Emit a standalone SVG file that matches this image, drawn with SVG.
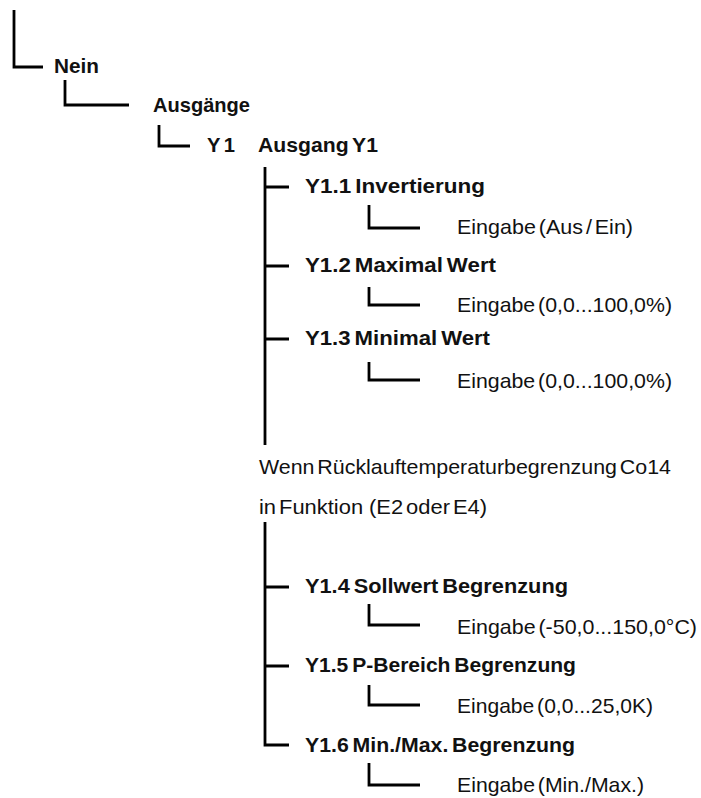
<svg xmlns="http://www.w3.org/2000/svg" width="701" height="798" viewBox="0 0 701 798">
<style>
.c{fill:none;stroke:#000;stroke-width:2.8}
.b{font-family:"Liberation Sans",Arial,sans-serif;font-size:20.5px;font-weight:bold;fill:#111;word-spacing:-2px}
.r{font-family:"Liberation Sans",Arial,sans-serif;font-size:21px;fill:#111;word-spacing:-3px}
</style>
<rect width="701" height="798" fill="#fff"/>
<g id="connectors">
<path class="c" d="M14 10V67H43"/>
<path class="c" d="M65 80V105H129"/>
<path class="c" d="M159 125V146H190"/>
<path class="c" d="M265 167V445"/>
<path class="c" d="M265 522V745H289"/>
<path class="c" d="M265 187H289M265 266H289M265 339H289M265 587H289M265 666H289"/>
<path class="c" d="M369 205V228H420"/>
<path class="c" d="M369 287V305H420"/>
<path class="c" d="M369 362V380H420"/>
<path class="c" d="M369 604V625H420"/>
<path class="c" d="M369 685V705H420"/>
<path class="c" d="M369 763V785H420"/>
</g>
<g id="nein"><text class="b" x="54" y="73" textLength="45" lengthAdjust="spacingAndGlyphs">Nein</text></g>
<g id="ausgaenge"><text class="b" x="153" y="112" textLength="97" lengthAdjust="spacingAndGlyphs">Ausgänge</text></g>
<g id="y1"><text class="b" x="207" y="152" textLength="28" lengthAdjust="spacingAndGlyphs">Y 1</text><text class="b" x="258" y="152" textLength="120" lengthAdjust="spacingAndGlyphs">Ausgang Y1</text></g>
<g id="y11"><text class="b" x="305" y="193" textLength="180" lengthAdjust="spacingAndGlyphs">Y1.1 Invertierung</text></g>
<g id="y11e"><text class="r" x="457" y="234" textLength="176" lengthAdjust="spacingAndGlyphs">Eingabe (Aus / Ein)</text></g>
<g id="y12"><text class="b" x="305" y="272" textLength="191" lengthAdjust="spacingAndGlyphs">Y1.2 Maximal Wert</text></g>
<g id="y12e"><text class="r" x="457" y="312" textLength="215" lengthAdjust="spacingAndGlyphs">Eingabe (0,0...100,0%)</text></g>
<g id="y13"><text class="b" x="305" y="345" textLength="185" lengthAdjust="spacingAndGlyphs">Y1.3 Minimal Wert</text></g>
<g id="y13e"><text class="r" x="457" y="388" textLength="215" lengthAdjust="spacingAndGlyphs">Eingabe (0,0...100,0%)</text></g>
<g id="cond"><text class="r" x="259" y="474" textLength="412" lengthAdjust="spacingAndGlyphs">Wenn Rücklauftemperaturbegrenzung Co14</text><text class="r" x="259" y="514" xml:space="preserve" textLength="228" lengthAdjust="spacingAndGlyphs">in Funktion  (E2 oder E4)</text></g>
<g id="y14"><text class="b" x="305" y="593" textLength="263" lengthAdjust="spacingAndGlyphs">Y1.4 Sollwert Begrenzung</text></g>
<g id="y14e"><text class="r" x="457" y="634" textLength="240" lengthAdjust="spacingAndGlyphs">Eingabe (-50,0...150,0°C)</text></g>
<g id="y15"><text class="b" x="305" y="672" textLength="271" lengthAdjust="spacingAndGlyphs">Y1.5 P-Bereich Begrenzung</text></g>
<g id="y15e"><text class="r" x="457" y="713" textLength="196" lengthAdjust="spacingAndGlyphs">Eingabe (0,0...25,0K)</text></g>
<g id="y16"><text class="b" x="305" y="752" textLength="270" lengthAdjust="spacingAndGlyphs">Y1.6 Min./Max. Begrenzung</text></g>
<g id="y16e"><text class="r" x="457" y="792" textLength="187" lengthAdjust="spacingAndGlyphs">Eingabe (Min./Max.)</text></g>
</svg>
